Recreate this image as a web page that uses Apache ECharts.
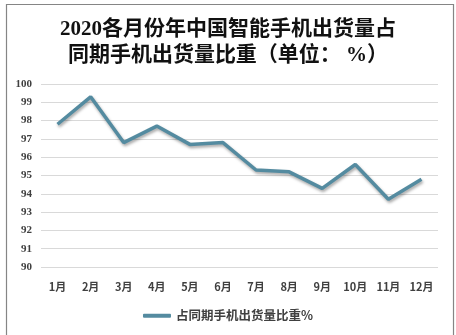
<!DOCTYPE html>
<html>
<head>
<meta charset="utf-8">
<script src="https://cdn.jsdelivr.net/npm/echarts@6/dist/echarts.min.js"></script>
<style>html,body{margin:0;padding:0;background:#fff;}#c{width:456px;height:335px;}</style>
</head>
<body>
<div id="c"></div>
<script>
const titleText = '2020各月份年中国智能手机出货量占\n同期手机出货量比重（单位： %）';
const seriesName = '占同期手机出货量比重%';
const categories = ['1月','2月','3月','4月','5月','6月','7月','8月','9月','10月','11月','12月'];
const values = [97.8, 99.3, 96.8, 97.7, 96.7, 96.8, 95.3, 95.2, 94.3, 95.6, 93.7, 94.8];
const yTicks = [90, 100, 1];

const chart = echarts.init(document.getElementById('c'), null, {renderer: 'canvas'});
chart.setOption({
  animation: false,
  backgroundColor: '#fff',
  graphic: [{
    type: 'rect', left: 4, top: 2, z: -1,
    shape: {width: 447, height: 331},
    style: {fill: 'none', stroke: '#858585', lineWidth: 1.2}
  }],
  title: {
    text: titleText,
    left: 'center', top: 12,
    textStyle: {
      fontFamily: "'Liberation Serif', 'Noto Sans CJK SC', serif",
      fontSize: 21, fontWeight: 'bold', color: '#111', lineHeight: 26
    }
  },
  legend: {
    bottom: 8, left: 'center',
    itemWidth: 28, itemHeight: 4, itemGap: 5,
    icon: 'roundRect',
    textStyle: {fontFamily: "'Noto Sans CJK SC', sans-serif", fontSize: 12.5, fontWeight: 'bold', color: '#404040'},
    data: [{name: seriesName}]
  },
  grid: {left: 41, right: 18, top: 84, bottom: 68},
  xAxis: {
    type: 'category', data: categories, boundaryGap: true,
    axisLine: {show: false}, axisTick: {show: false},
    axisLabel: {margin: 14, fontSize: 11, fontWeight: 'bold', color: '#404040', fontFamily: "'Noto Sans CJK SC', sans-serif"}
  },
  yAxis: {
    type: 'value', min: yTicks[0], max: yTicks[1], interval: yTicks[2],
    axisLine: {show: false}, axisTick: {show: false},
    axisLabel: {margin: 9, fontSize: 11, fontWeight: 'bold', color: '#404040', fontFamily: "'Liberation Serif', serif"},
    splitLine: {lineStyle: {color: '#d9d9d9', width: 1}}
  },
  series: [{
    name: seriesName, type: 'line', data: values,
    symbol: 'none',
    color: '#548ba0',
    lineStyle: {width: 3.5, color: '#548ba0', shadowColor: 'rgba(0,0,0,0.35)', shadowBlur: 3, shadowOffsetY: 2, shadowOffsetX: 1}
  }]
});
</script>
</body>
</html>
